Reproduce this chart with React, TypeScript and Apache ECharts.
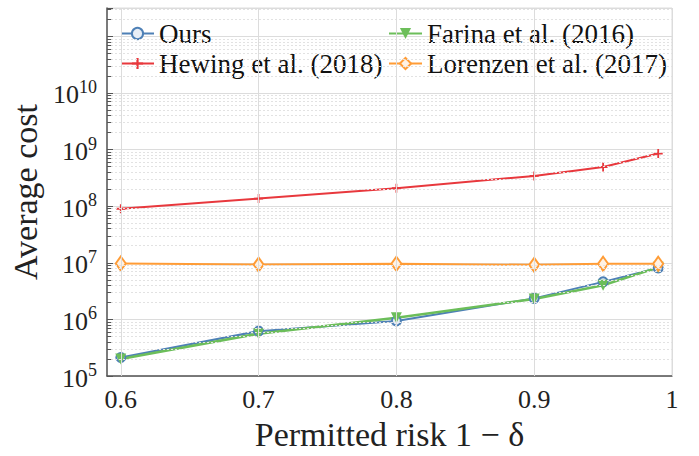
import React, { useEffect, useRef } from "react";
import * as echarts from "echarts";

// Permitted risk values (x) and average cost per method
const risk = [0.6, 0.7, 0.8, 0.9, 0.95, 0.99];
const ours = [2.12e5, 6.2e5, 9.4e5, 2.35e6, 4.6e6, 8.1e6];
const hewing = [9.0e7, 1.36e8, 2.07e8, 3.42e8, 4.9e8, 8.5e8];
const farina = [2.0e5, 5.6e5, 1.07e6, 2.3e6, 4.0e6, 8.3e6];
const lorenzen = [9.7e6, 9.3e6, 9.6e6, 9.2e6, 9.6e6, 9.6e6];

const xTicks = [0.6, 0.7, 0.8, 0.9, 1];
const xMin = 0.59;
const xMax = 1.0;
const yMin = 1e5;
const yMax = Math.pow(10, 11.5);
const hiddenExponents = [11];

const FONT = "Liberation Serif";
const BLUE = "#4e80b6";
const RED = "#e8383d";
const GREEN = "#6cbe5a";
const ORANGE = "#ff9c36";

const pairs = (ys: number[]) => risk.map((x, i) => [x, ys[i]]);

// values 2..9 x 10^k used for dotted minor grid lines and short minor ticks
function minorValues() {
  const out: number[] = [];
  for (let k = 5; k <= 11; k++) {
    for (let m = 2; m <= 9; m++) {
      const v = m * Math.pow(10, k);
      if (v < yMax) out.push(v);
    }
  }
  return out;
}

export default function App() {
  const ref = useRef<HTMLDivElement>(null);
  useEffect(() => {
    if (!ref.current) return;
    const chart = echarts.init(ref.current, undefined, { renderer: "svg" });
    const legendText = { fontFamily: FONT, fontSize: 27, color: "#111", lineHeight: 26 };
    const minors = minorValues();
    chart.setOption({
      animation: false,
      backgroundColor: "#fff",
      grid: {
        left: 107,
        top: 8,
        width: 565,
        height: 371,
        show: true,
        borderColor: "#dcdcdc",
        borderWidth: 1,
      },
      legend: [
        {
          data: ["Ours", "Hewing et al. (2018)"],
          orient: "vertical",
          left: 120,
          top: 20,
          itemWidth: 33,
          itemHeight: 14,
          itemGap: 3,
          padding: 0,
          textStyle: legendText,
        },
        {
          data: ["Farina et al. (2016)", "Lorenzen et al. (2017)"],
          orient: "vertical",
          left: 388,
          top: 20,
          itemWidth: 33,
          itemHeight: 14,
          itemGap: 3,
          padding: 0,
          textStyle: legendText,
        },
      ],
      xAxis: {
        type: "value",
        min: xMin,
        max: xMax,
        name: "Permitted risk 1 − δ",
        nameLocation: "middle",
        nameGap: 41,
        nameTextStyle: { fontFamily: FONT, fontSize: 34, color: "#222" },
        axisLine: { show: true, onZero: false, lineStyle: { color: "#555", width: 1.5 } },
        axisTick: { show: true, inside: true, length: 6, customValues: xTicks, lineStyle: { color: "#555" } },
        axisLabel: {
          customValues: xTicks,
          margin: 10,
          fontFamily: FONT,
          fontSize: 26,
          color: "#222",
          formatter: (v: number) => String(v),
        },
        splitLine: { show: false },
      },
      yAxis: {
        type: "log",
        logBase: 10,
        min: yMin,
        max: yMax,
        name: "Average cost",
        nameLocation: "middle",
        nameGap: 62,
        nameTextStyle: { fontFamily: FONT, fontSize: 34, color: "#222" },
        axisLine: { show: true, lineStyle: { color: "#555", width: 1.5 } },
        axisTick: { show: true, inside: true, length: 6, lineStyle: { color: "#555" } },
        axisLabel: {
          margin: 10,
          formatter: (v: number) => {
            const e = Math.round(Math.log10(v));
            if (Math.abs(Math.log10(v) - e) > 1e-6) return "";
            if (hiddenExponents.includes(e)) return "";
            return "{b|10}{s|" + e + "}";
          },
          rich: {
            b: { fontFamily: FONT, fontSize: 26, color: "#222", lineHeight: 30, verticalAlign: "bottom" },
            s: { fontFamily: FONT, fontSize: 18, color: "#222", lineHeight: 30, verticalAlign: "top" },
          },
        },
        splitLine: { show: true, lineStyle: { color: "#dcdcdc", width: 1 } },
      },
      series: [
        {
          // background grid detail: vertical grid lines, minor horizontal lines and minor ticks
          type: "line",
          data: [],
          z: 1,
          silent: true,
          markLine: {
            silent: true,
            symbol: "none",
            label: { show: false },
            animation: false,
            data: [
              ...minors.map((v) => ({ yAxis: v, lineStyle: { color: "#e2e2e2", type: [2, 2], width: 1 } })),
              ...xTicks.map((x) => ({ xAxis: x, lineStyle: { color: "#dcdcdc", type: "solid", width: 1 } })),
              ...minors.map((v) => [
                { coord: [xMin, v], lineStyle: { color: "#555", type: "solid", width: 1 } },
                { coord: [xMin + 0.003, v] },
              ]),
            ],
          },
        },
        {
          name: "Ours",
          type: "line",
          z: 3,
          data: pairs(ours),
          symbol: "circle",
          symbolSize: 9,
          lineStyle: { color: BLUE, width: 2 },
          itemStyle: { color: "#e8eef6", borderColor: BLUE, borderWidth: 2 },
        },
        {
          name: "Hewing et al. (2018)",
          type: "line",
          z: 3,
          data: pairs(hewing),
          symbol: "path://M4,0H6V4H10V6H6V10H4V6H0V4H4Z",
          symbolSize: 9,
          lineStyle: { color: RED, width: 2 },
          itemStyle: { color: RED },
        },
        {
          name: "Farina et al. (2016)",
          type: "line",
          z: 3,
          data: pairs(farina),
          symbol: "triangle",
          symbolRotate: 180,
          symbolSize: 11,
          lineStyle: { color: GREEN, width: 2.5 },
          itemStyle: { color: GREEN },
        },
        {
          name: "Lorenzen et al. (2017)",
          type: "line",
          z: 3,
          data: pairs(lorenzen),
          symbol: "diamond",
          symbolSize: [10, 14],
          lineStyle: { color: ORANGE, width: 2 },
          itemStyle: { color: "#fff2e4", borderColor: ORANGE, borderWidth: 2 },
        },
      ],
    });
    return () => chart.dispose();
  }, []);
  return <div ref={ref} style={{ width: 699, height: 456, position: "absolute", left: 0, top: 0 }} />;
}
